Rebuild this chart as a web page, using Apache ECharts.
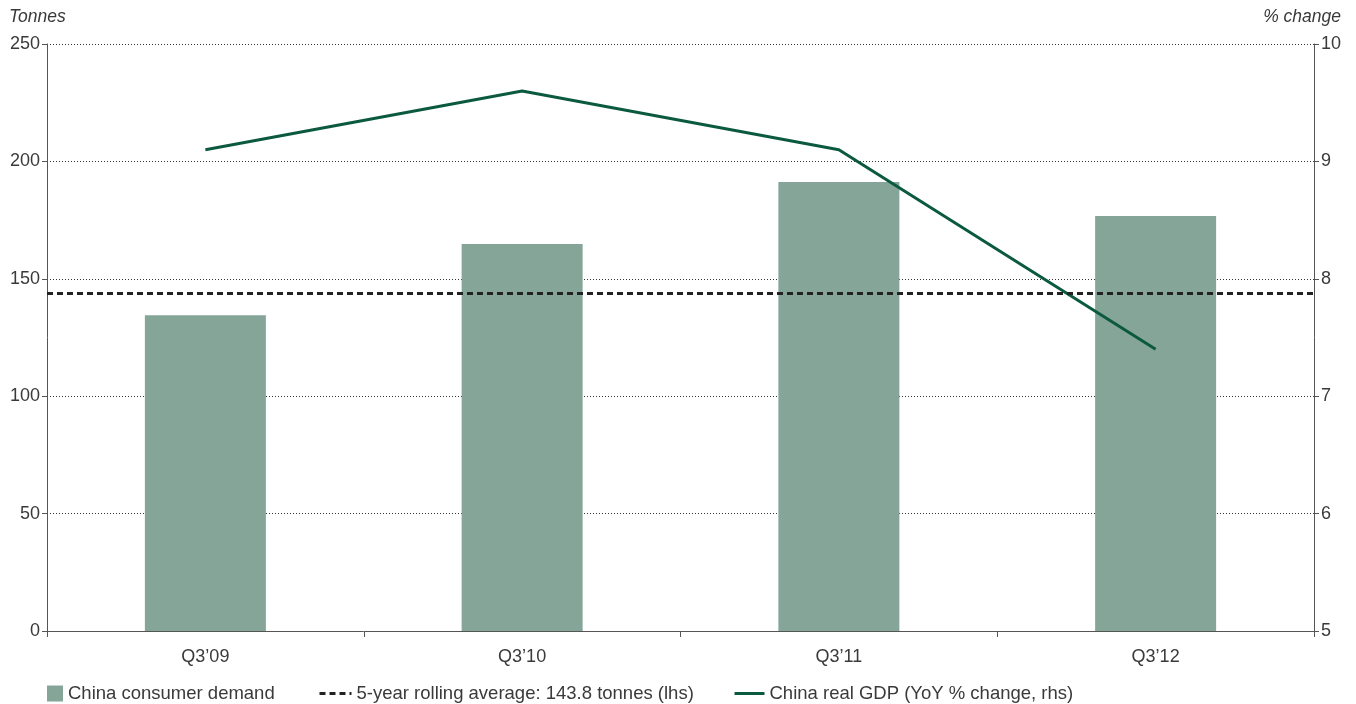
<!DOCTYPE html>
<html>
<head>
<meta charset="utf-8">
<script src="https://cdn.jsdelivr.net/npm/echarts@6/dist/echarts.min.js"></script>
<style>html,body{margin:0;padding:0;background:#fff;}#c{width:1356px;height:704px;}</style>
</head>
<body>
<div id="c"></div>
<script>
const categories = ['Q3\u201909', 'Q3\u201910', 'Q3\u201911', 'Q3\u201912'];
const demand = [134.5, 164.8, 191.2, 176.7];
const gdp = [9.1, 9.6, 9.1, 7.4];
const rollingAvg = 143.8;
const leftTicks = { min: 0, max: 250, interval: 50 };
const rightTicks = { min: 5, max: 10, interval: 1 };

const FONT = 'Liberation Sans, Arial, sans-serif';
const TXT = '#3a3a3a';
const AXIS = '#555';
const BAR = '#84a598';
const LINE = '#0b5a40';
const AVG = '#222';

const chart = echarts.init(document.getElementById('c'), null, { renderer: 'canvas' });
chart.setOption({
  animation: false,
  backgroundColor: '#fff',
  textStyle: { fontFamily: FONT },
  title: [
    { text: 'Tonnes', left: 9, top: 8, padding: 0, textStyle: { fontFamily: FONT, fontSize: 17.5, fontStyle: 'italic', fontWeight: 'normal', color: TXT } },
    { text: '% change', right: 15, top: 8, padding: 0, textStyle: { fontFamily: FONT, fontSize: 17.5, fontStyle: 'italic', fontWeight: 'normal', color: TXT } }
  ],
  grid: { left: 47, right: 42, top: 44, bottom: 73, containLabel: false },
  legend: [
    { left: 47, top: 684, padding: 0, itemWidth: 16, itemHeight: 16, selectedMode: false,
      data: [{ name: 'China consumer demand', icon: 'rect' }],
      textStyle: { fontFamily: FONT, fontSize: 18.5, color: TXT } },
    { left: 318, top: 684, padding: 0, itemWidth: 32, itemHeight: 16, selectedMode: false,
      itemStyle: { opacity: 0 },
      lineStyle: { width: 3, color: AVG, type: [6, 4] },
      data: ['5-year rolling average: 143.8 tonnes (lhs)'],
      textStyle: { fontFamily: FONT, fontSize: 18.5, color: TXT } },
    { left: 733, top: 684, padding: 0, itemWidth: 30, itemHeight: 16, selectedMode: false,
      itemStyle: { opacity: 0 },
      lineStyle: { width: 3, color: LINE },
      data: ['China real GDP (YoY % change, rhs)'],
      textStyle: { fontFamily: FONT, fontSize: 18.5, color: TXT } }
  ],
  xAxis: {
    type: 'category',
    data: categories,
    axisLine: { show: true, lineStyle: { color: AXIS, width: 1 } },
    axisTick: { show: true, length: 6, lineStyle: { color: AXIS } },
    axisLabel: { fontFamily: FONT, fontSize: 18, color: TXT, margin: 17 },
    splitLine: { show: false }
  },
  yAxis: [
    {
      type: 'value', min: leftTicks.min, max: leftTicks.max, interval: leftTicks.interval,
      axisLine: { show: true, lineStyle: { color: AXIS, width: 1 } },
      axisTick: { show: true, length: 5, lineStyle: { color: AXIS } },
      axisLabel: { fontFamily: FONT, fontSize: 18, color: TXT, margin: 7 },
      splitLine: { show: true, lineStyle: { color: '#333', width: 1, type: [1, 2] } }
    },
    {
      type: 'value', min: rightTicks.min, max: rightTicks.max, interval: rightTicks.interval,
      position: 'right',
      axisLine: { show: true, lineStyle: { color: AXIS, width: 1 } },
      axisTick: { show: true, length: 5, lineStyle: { color: AXIS } },
      axisLabel: { fontFamily: FONT, fontSize: 18, color: TXT, margin: 7 },
      splitLine: { show: false }
    }
  ],
  series: [
    {
      name: 'China consumer demand', type: 'bar', data: demand, barWidth: 121,
      itemStyle: { color: BAR }, yAxisIndex: 0, z: 2
    },
    {
      name: '5-year rolling average: 143.8 tonnes (lhs)', type: 'line', data: [],
      yAxisIndex: 0, symbol: 'none', z: 3,
      itemStyle: { color: AVG },
      lineStyle: { color: AVG, width: 3, type: [6, 4] },
      markLine: {
        silent: true, symbol: ['none', 'none'], label: { show: false },
        lineStyle: { color: AVG, width: 3, type: [6, 4] },
        data: [{ yAxis: rollingAvg }]
      }
    },
    {
      name: 'China real GDP (YoY % change, rhs)', type: 'line', data: gdp, yAxisIndex: 1,
      symbol: 'none', z: 4,
      itemStyle: { color: LINE },
      lineStyle: { color: LINE, width: 3 }
    }
  ]
});
</script>
</body>
</html>
